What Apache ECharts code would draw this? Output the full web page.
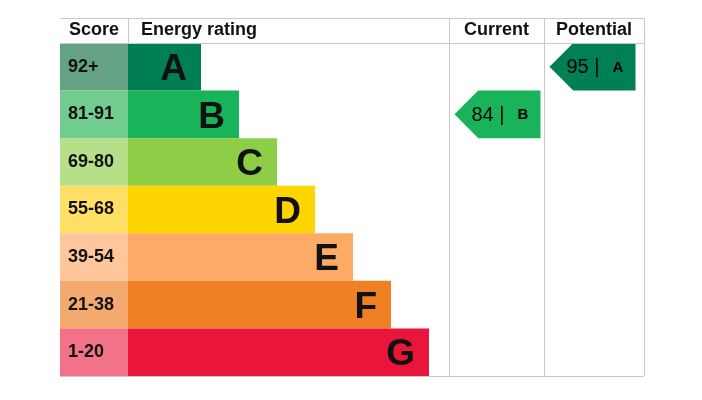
<!DOCTYPE html>
<html lang="en" style="height: 100%">
<head>
    <meta charset="utf-8">
</head>
<body style="height: 100%; margin: 0; background: #fff">
<div id="container" style="width: 702px; height: 400px"></div>

<script type="text/javascript" src="https://fastly.jsdelivr.net/npm/echarts@6.0.0/dist/echarts.min.js"></script>

<script type="text/javascript">
    // energy bands, top (best) to bottom
    var bands = ['A', 'B', 'C', 'D', 'E', 'F', 'G'];
    var scoreRanges = ['92+', '81-91', '69-80', '55-68', '39-54', '21-38', '1-20'];
    // length of each rating bar (px along the table)
    var barLengths = [73, 111, 149, 187, 225, 263, 301];
    var bandColors = ['#007f55', '#19b459', '#8dce46', '#ffd500', '#fcaa65', '#ef8023', '#e9153b'];
    var scoreColors = ['#64a283', '#72cb8f', '#b5df88', '#ffe064', '#fdc79b', '#f4aa6e', '#f27387'];

    var currentScore = 84;
    var currentBand = 'B';
    var potentialScore = 95;
    var potentialBand = 'A';

    var FONT = '"Liberation Sans", Arial, sans-serif';

    // table layout
    var T_LEFT = 60, T_RIGHT = 644, T_TOP = 18, T_HEAD = 43, T_BOTTOM = 376;
    var SCORE_W = 68;
    var CUR_L = 449, POT_L = 544;
    var LINE = '#c8c8c8';

    var dom = document.getElementById('container');
    var myChart = echarts.init(dom, null, {renderer: 'canvas'});

    function arrowSeries(name, colLeft, band, score) {
        return {
            type: 'custom',
            name: name,
            coordinateSystem: 'cartesian2d',
            data: [[0, bands.indexOf(band), score]],
            renderItem: function (params, api) {
                var bi = api.value(1);
                var c = api.coord([0, bi]);
                var h = api.size([0, 1])[1];
                var cy = c[1];
                var top = cy - h / 2, bot = cy + h / 2;
                var tip = colLeft + 5.5;
                var right = tip + 86;
                var col = bandColors[bi];
                return {
                    type: 'group',
                    children: [{
                        type: 'polygon',
                        shape: {points: [[tip, cy], [tip + h / 2, top], [right, top], [right, bot], [tip + h / 2, bot]]},
                        style: {fill: col}
                    }, {
                        type: 'text',
                        x: tip + 17,
                        y: cy + 1,
                        style: {
                            text: '{n|' + api.value(2) + ' |}{l|' + bands[bi] + '}',
                            verticalAlign: 'middle',
                            align: 'left',
                            rich: {
                                n: {fontFamily: FONT, fontSize: 20, color: '#1c1c1c'},
                                l: {fontFamily: FONT, fontSize: 15, fontWeight: 'bold', color: '#1c1c1c', padding: [0, 0, 0, 13]}
                            }
                        }
                    }]
                };
            }
        };
    }

    var headStyle = {fontFamily: FONT, fontSize: 18, fontWeight: 'bold', fill: '#111'};
    var headY = (T_TOP + T_HEAD) / 2;

    function hline(y) {
        return {type: 'line', shape: {x1: T_LEFT, y1: y, x2: T_RIGHT, y2: y}, style: {stroke: LINE, lineWidth: 1}, z: 10};
    }
    function vline(x, y1, y2) {
        return {type: 'line', shape: {x1: x, y1: y1, x2: x, y2: y2}, style: {stroke: LINE, lineWidth: 1}, z: 10};
    }

    var option = {
        animation: false,
        grid: {left: T_LEFT, top: T_HEAD, width: T_RIGHT - T_LEFT, height: T_BOTTOM - T_HEAD},
        xAxis: {type: 'value', min: 0, max: T_RIGHT - T_LEFT, show: false},
        yAxis: {type: 'category', data: bands, inverse: true, show: false},
        graphic: [
            hline(T_TOP + 0.5), hline(T_HEAD + 0.5), hline(T_BOTTOM + 0.5),
            vline(T_LEFT + SCORE_W + 0.5, T_TOP, T_HEAD),
            vline(CUR_L + 0.5, T_TOP, T_BOTTOM),
            vline(POT_L + 0.5, T_TOP, T_BOTTOM),
            vline(T_RIGHT + 0.5, T_TOP, T_BOTTOM),
            {type: 'text', x: T_LEFT + SCORE_W / 2, y: headY, style: Object.assign({text: 'Score', align: 'center', verticalAlign: 'middle'}, headStyle)},
            {type: 'text', x: T_LEFT + SCORE_W + 13, y: headY, style: Object.assign({text: 'Energy rating', align: 'left', verticalAlign: 'middle'}, headStyle)},
            {type: 'text', x: (CUR_L + POT_L) / 2, y: headY, style: Object.assign({text: 'Current', align: 'center', verticalAlign: 'middle'}, headStyle)},
            {type: 'text', x: (POT_L + T_RIGHT) / 2, y: headY, style: Object.assign({text: 'Potential', align: 'center', verticalAlign: 'middle'}, headStyle)}
        ],
        series: [{
            type: 'bar',
            name: 'Score',
            stack: 'row',
            barCategoryGap: 0,
            data: scoreRanges.map(function (s, i) {
                return {value: SCORE_W, name: s, itemStyle: {color: scoreColors[i]}};
            }),
            label: {
                show: true,
                position: 'insideLeft',
                distance: 8,
                formatter: function (p) { return scoreRanges[p.dataIndex]; },
                fontFamily: FONT,
                fontSize: 18,
                fontWeight: 'bold',
                color: '#111'
            }
        }, {
            type: 'bar',
            name: 'Energy rating',
            stack: 'row',
            barCategoryGap: 0,
            data: barLengths.map(function (v, i) {
                return {value: v, itemStyle: {color: bandColors[i]}};
            }),
            label: {
                show: true,
                position: 'insideRight',
                distance: 14,
                offset: [0, 3],
                formatter: function (p) { return bands[p.dataIndex]; },
                fontFamily: FONT,
                fontSize: 37,
                fontWeight: 'bold',
                color: '#111'
            }
        },
            arrowSeries('Current', CUR_L, currentBand, currentScore),
            arrowSeries('Potential', POT_L, potentialBand, potentialScore)
        ]
    };

    myChart.setOption(option);
    window.addEventListener('resize', myChart.resize);
</script>
</body>
</html>
